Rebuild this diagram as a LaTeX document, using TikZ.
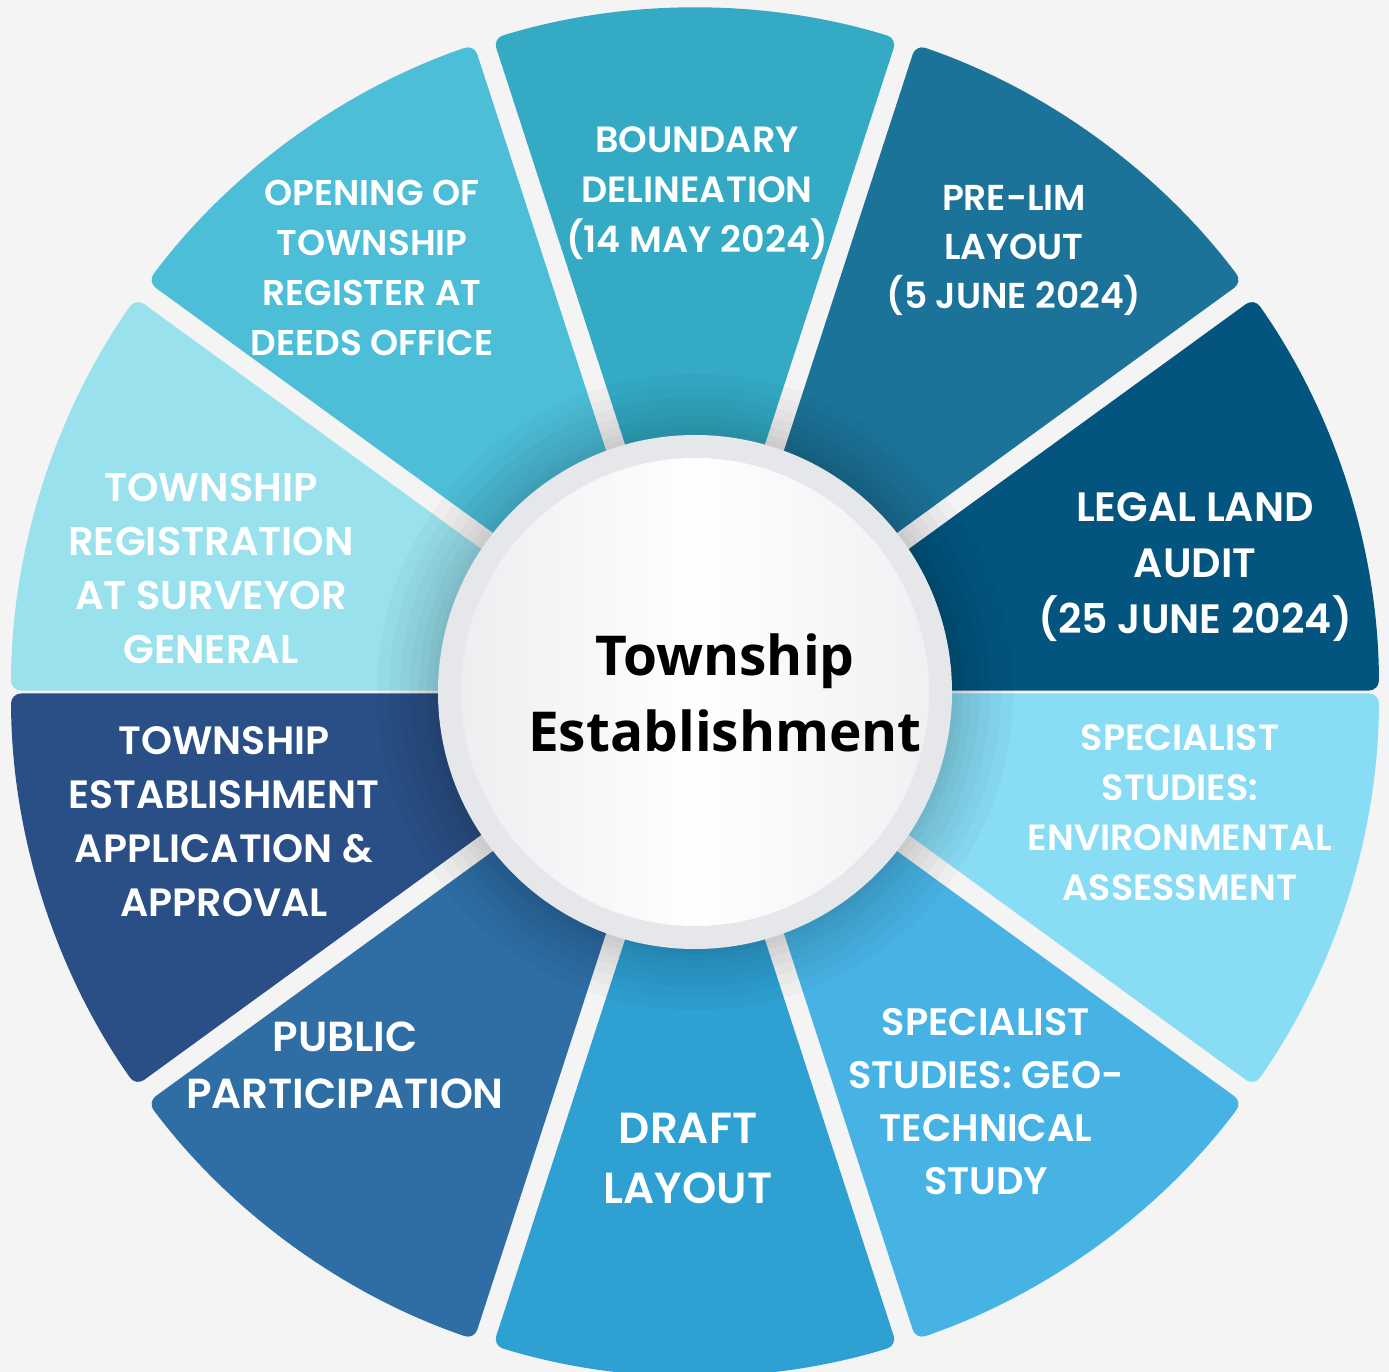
\documentclass[tikz,border=0pt]{standalone}
\usepackage{fontspec}
\newfontfamily\pop{Poppins}[UprightFont={* SemiBold}]
\newfontfamily\ctr{Open Sans}
\definecolor{bgc}{HTML}{F4F4F5}
\definecolor{cLegal}{HTML}{03557F}
\definecolor{cPrelim}{HTML}{1C7399}
\definecolor{cBound}{HTML}{34AAC5}
\definecolor{cOpen}{HTML}{4CBED8}
\definecolor{cSurv}{HTML}{99E1EC}
\definecolor{cAppl}{HTML}{294F86}
\definecolor{cPubl}{HTML}{2E6EA5}
\definecolor{cDraft}{HTML}{2EA0D2}
\definecolor{cGeo}{HTML}{47B3E5}
\definecolor{cEnv}{HTML}{88DCF4}
\definecolor{ringc}{HTML}{E6E7EA}
\tikzset{
  lbl/.style 2 args={font=\pop\fontsize{#1}{#2}\selectfont, text=white, align=center, inner sep=0pt},
  ctrlbl/.style={font=\ctr\bfseries\fontsize{55}{76}\selectfont, text=black, align=center, inner sep=0pt}
}
\begin{document}
\begin{tikzpicture}[x=1pt,y=1pt]
\useasboundingbox (-695,-680) rectangle (694,692);
\fill[bgc] (-695,-680) rectangle (694,692);
\def\R{684}
\foreach \a/\b/\ha/\hb/\c in {0/36/1.5/10/cLegal, 36/72/10/10/cPrelim, 72/108/10/10/cBound, 108/144/10/10/cOpen, 144/180/10/1.5/cSurv, 180/216/1.5/10/cAppl, 216/252/10/10/cPubl, 252/288/10/10/cDraft, 288/324/10/10/cGeo, 324/360/10/1.5/cEnv} {
  \pgfmathsetmacro\da{asin(\ha/\R)}
  \pgfmathsetmacro\db{asin(\hb/\R)}
  \pgfmathsetmacro\xa{100*cos(\a)-\ha*sin(\a)}
  \pgfmathsetmacro\ya{100*sin(\a)+\ha*cos(\a)}
  \pgfmathsetmacro\xb{100*cos(\b)+\hb*sin(\b)}
  \pgfmathsetmacro\yb{100*sin(\b)-\hb*cos(\b)}
  \pgfmathsetmacro\sa{\a+\da}
  \pgfmathsetmacro\eb{\b-\db}
  \fill[\c, rounded corners=10pt] (\xa,\ya) -- (\sa:\R) arc[start angle=\sa, end angle=\eb, radius=\R pt] -- (\xb,\yb) -- cycle;
}
% shadow around the hub
\foreach \r in {318,306,295,285,276,268,262} {
  \fill[black, opacity=0.022] (0,0) circle[radius=\r pt];
}
% hub
\fill[ringc] (0,0) circle[radius=257pt];
\shade[left color=ringc!70!white, right color=ringc!60!white, middle color=white!97!ringc] (0,0) circle[radius=234pt];
% labels
\node[lbl={36.5}{50}] (bound) at (2,499) {BOUNDARY\\DELINEATION\\(14 MAY 2024)};
\node[lbl={36}{49}] (prelim) at (319,442) {PRE-LIM\\LAYOUT\\(5 JUNE 2024)};
\node[lbl={41}{56}] (legal) at (500,125) {LEGAL LAND\\AUDIT\\(25 JUNE 2024)};
\node[lbl={36.5}{50}] (env) at (485,-121) {SPECIALIST\\STUDIES:\\ENVIRONMENTAL\\ASSESSMENT};
\node[lbl={38.3}{53}] (geo) at (291,-410) {SPECIALIST\\STUDIES: GEO-\\TECHNICAL\\STUDY};
\node[lbl={43.5}{60}] (draft) at (-7,-466) {DRAFT\\LAYOUT};
\node[lbl={42}{57}] (publ) at (-350,-373) {PUBLIC\\PARTICIPATION};
\node[lbl={39.5}{54}] (appl) at (-471,-130) {TOWNSHIP\\ESTABLISHMENT\\APPLICATION \&\\APPROVAL};
\node[lbl={40}{54}] (surv) at (-484,124) {TOWNSHIP\\REGISTRATION\\AT SURVEYOR\\GENERAL};
\node[lbl={35.8}{50}] (open) at (-323,424) {OPENING OF\\TOWNSHIP\\REGISTER AT\\DEEDS OFFICE};
\node[ctrlbl] (hub) at (30,-1) {Township\\Establishment};
\end{tikzpicture}
\end{document}
